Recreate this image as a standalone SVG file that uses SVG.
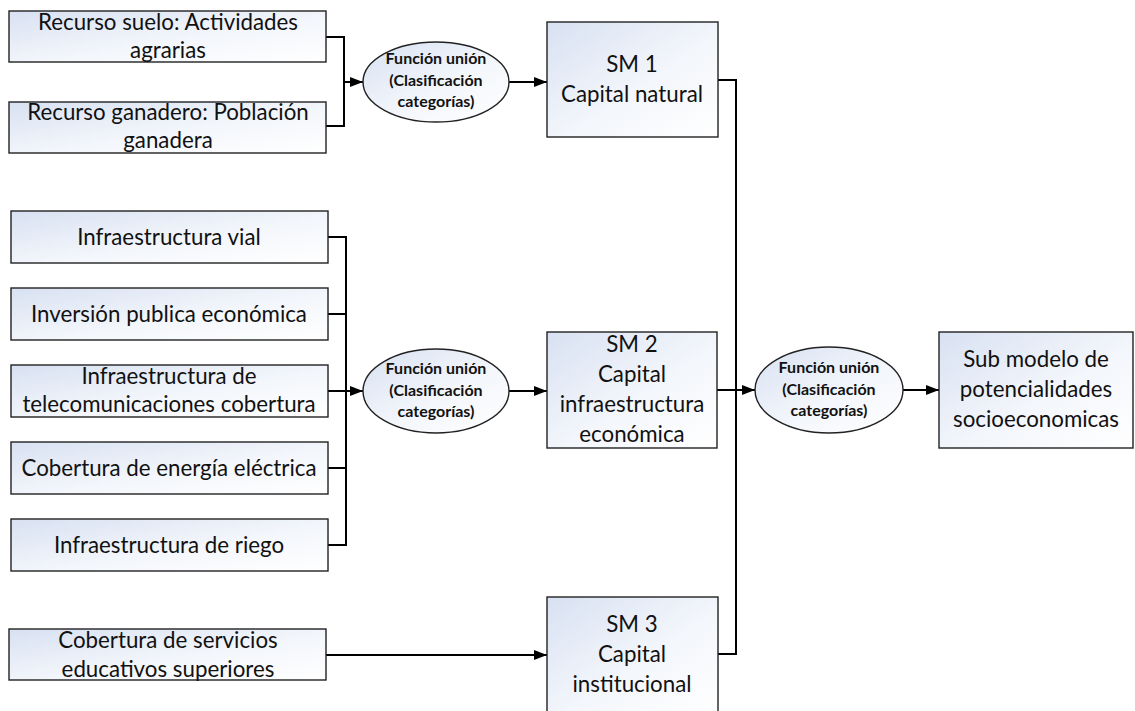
<svg xmlns="http://www.w3.org/2000/svg" width="1135" height="711" viewBox="0 0 1135 711">
  <defs>
    <linearGradient id="fillBox" x1="0" y1="0" x2="1" y2="1">
      <stop offset="0" stop-color="#d8e1f2"/>
      <stop offset="0.55" stop-color="#f3f6fb"/>
      <stop offset="1" stop-color="#ffffff"/>
    </linearGradient>
    <marker id="arrow" markerUnits="userSpaceOnUse" markerWidth="13" markerHeight="10" refX="13" refY="5" orient="auto">
      <path d="M0,0 L13,5 L0,10 z" fill="#000"/>
    </marker>
    <style>
      .box { fill: url(#fillBox); stroke: #222; stroke-width: 1.4; }
      .ell { fill: url(#fillBox); stroke: #222; stroke-width: 1.4; }
      .t { font-family: Lato, "Liberation Sans", sans-serif; font-size: 22.3px; fill: #111; text-anchor: middle; }
      .tb { font-family: Lato, "Liberation Sans", sans-serif; font-size: 16px; font-weight: bold; fill: #111; text-anchor: middle; }
      .ln { fill: none; stroke: #000; stroke-width: 2; }
      .ar { fill: none; stroke: #000; stroke-width: 2; marker-end: url(#arrow); }
    </style>
  </defs>

  <!-- connectors -->
  <g id="connectors">
    <path class="ln" d="M326,37 H344 V126 H326"/>
    <path class="ar" d="M344,82 H363"/>
    <path class="ar" d="M509,82 H547"/>

    <path class="ln" d="M328,237 H346 V545 H328"/>
    <path class="ln" d="M328,314 H346"/>
    <path class="ln" d="M328,391 H346"/>
    <path class="ln" d="M328,468 H346"/>
    <path class="ar" d="M346,391 H363"/>
    <path class="ar" d="M509,391 H547"/>

    <path class="ar" d="M326,655 H547"/>

    <path class="ln" d="M718,80 H736 V654 H718"/>
    <path class="ar" d="M717,390 H755"/>
    <path class="ar" d="M903,390 H939"/>
  </g>

  <!-- input layers -->
  <g id="n-suelo">
    <rect class="box" x="9" y="11" width="317" height="51"/>
    <text class="t" x="168" y="30">Recurso suelo: Actividades</text>
    <text class="t" x="168" y="58">agrarias</text>
  </g>
  <g id="n-ganadero">
    <rect class="box" x="9" y="102" width="317" height="51"/>
    <text class="t" x="168" y="120">Recurso ganadero: Población</text>
    <text class="t" x="168" y="148">ganadera</text>
  </g>

  <g id="n-vial">
    <rect class="box" x="11" y="211" width="317" height="52"/>
    <text class="t" x="169" y="245">Infraestructura vial</text>
  </g>
  <g id="n-inversion">
    <rect class="box" x="11" y="288" width="317" height="52"/>
    <text class="t" x="169" y="322">Inversión publica económica</text>
  </g>
  <g id="n-telecom">
    <rect class="box" x="11" y="365" width="317" height="52"/>
    <text class="t" x="169" y="384">Infraestructura de</text>
    <text class="t" x="169" y="412">telecomunicaciones cobertura</text>
  </g>
  <g id="n-energia">
    <rect class="box" x="11" y="442" width="317" height="52"/>
    <text class="t" x="169" y="476">Cobertura de energía eléctrica</text>
  </g>
  <g id="n-riego">
    <rect class="box" x="11" y="519" width="317" height="52"/>
    <text class="t" x="169" y="553">Infraestructura de riego</text>
  </g>

  <g id="n-educacion">
    <rect class="box" x="9" y="629" width="317" height="51"/>
    <text class="t" x="168" y="648">Cobertura de servicios</text>
    <text class="t" x="168" y="677">educativos superiores</text>
  </g>

  <!-- union functions -->
  <g id="f-union-1">
    <ellipse class="ell" cx="436" cy="82" rx="73" ry="40"/>
    <text class="tb" x="436" y="64">Función unión</text>
    <text class="tb" x="436" y="86">(Clasificación</text>
    <text class="tb" x="436" y="107">categorías)</text>
  </g>
  <g id="f-union-2">
    <ellipse class="ell" cx="436" cy="391" rx="73" ry="42"/>
    <text class="tb" x="436" y="374">Función unión</text>
    <text class="tb" x="436" y="396">(Clasificación</text>
    <text class="tb" x="436" y="417">categorías)</text>
  </g>
  <g id="f-union-3">
    <ellipse class="ell" cx="829" cy="390" rx="74" ry="43"/>
    <text class="tb" x="829" y="373">Función unión</text>
    <text class="tb" x="829" y="395">(Clasificación</text>
    <text class="tb" x="829" y="416">categorías)</text>
  </g>

  <!-- sub models -->
  <g id="sm1">
    <rect class="box" x="547" y="22" width="171" height="115"/>
    <text class="t" x="632" y="72">SM 1</text>
    <text class="t" x="632" y="102">Capital natural</text>
  </g>
  <g id="sm2">
    <rect class="box" x="547" y="332" width="170" height="116"/>
    <text class="t" x="632" y="352">SM 2</text>
    <text class="t" x="632" y="382">Capital</text>
    <text class="t" x="632" y="412">infraestructura</text>
    <text class="t" x="632" y="442">económica</text>
  </g>
  <g id="sm3">
    <rect class="box" x="547" y="597" width="171" height="116"/>
    <text class="t" x="632" y="632">SM 3</text>
    <text class="t" x="632" y="662">Capital</text>
    <text class="t" x="632" y="692">institucional</text>
  </g>

  <g id="resultado">
    <rect class="box" x="939" y="332" width="194" height="116"/>
    <text class="t" x="1036" y="367">Sub modelo de</text>
    <text class="t" x="1036" y="397">potencialidades</text>
    <text class="t" x="1036" y="427">socioeconomicas</text>
  </g>
</svg>
